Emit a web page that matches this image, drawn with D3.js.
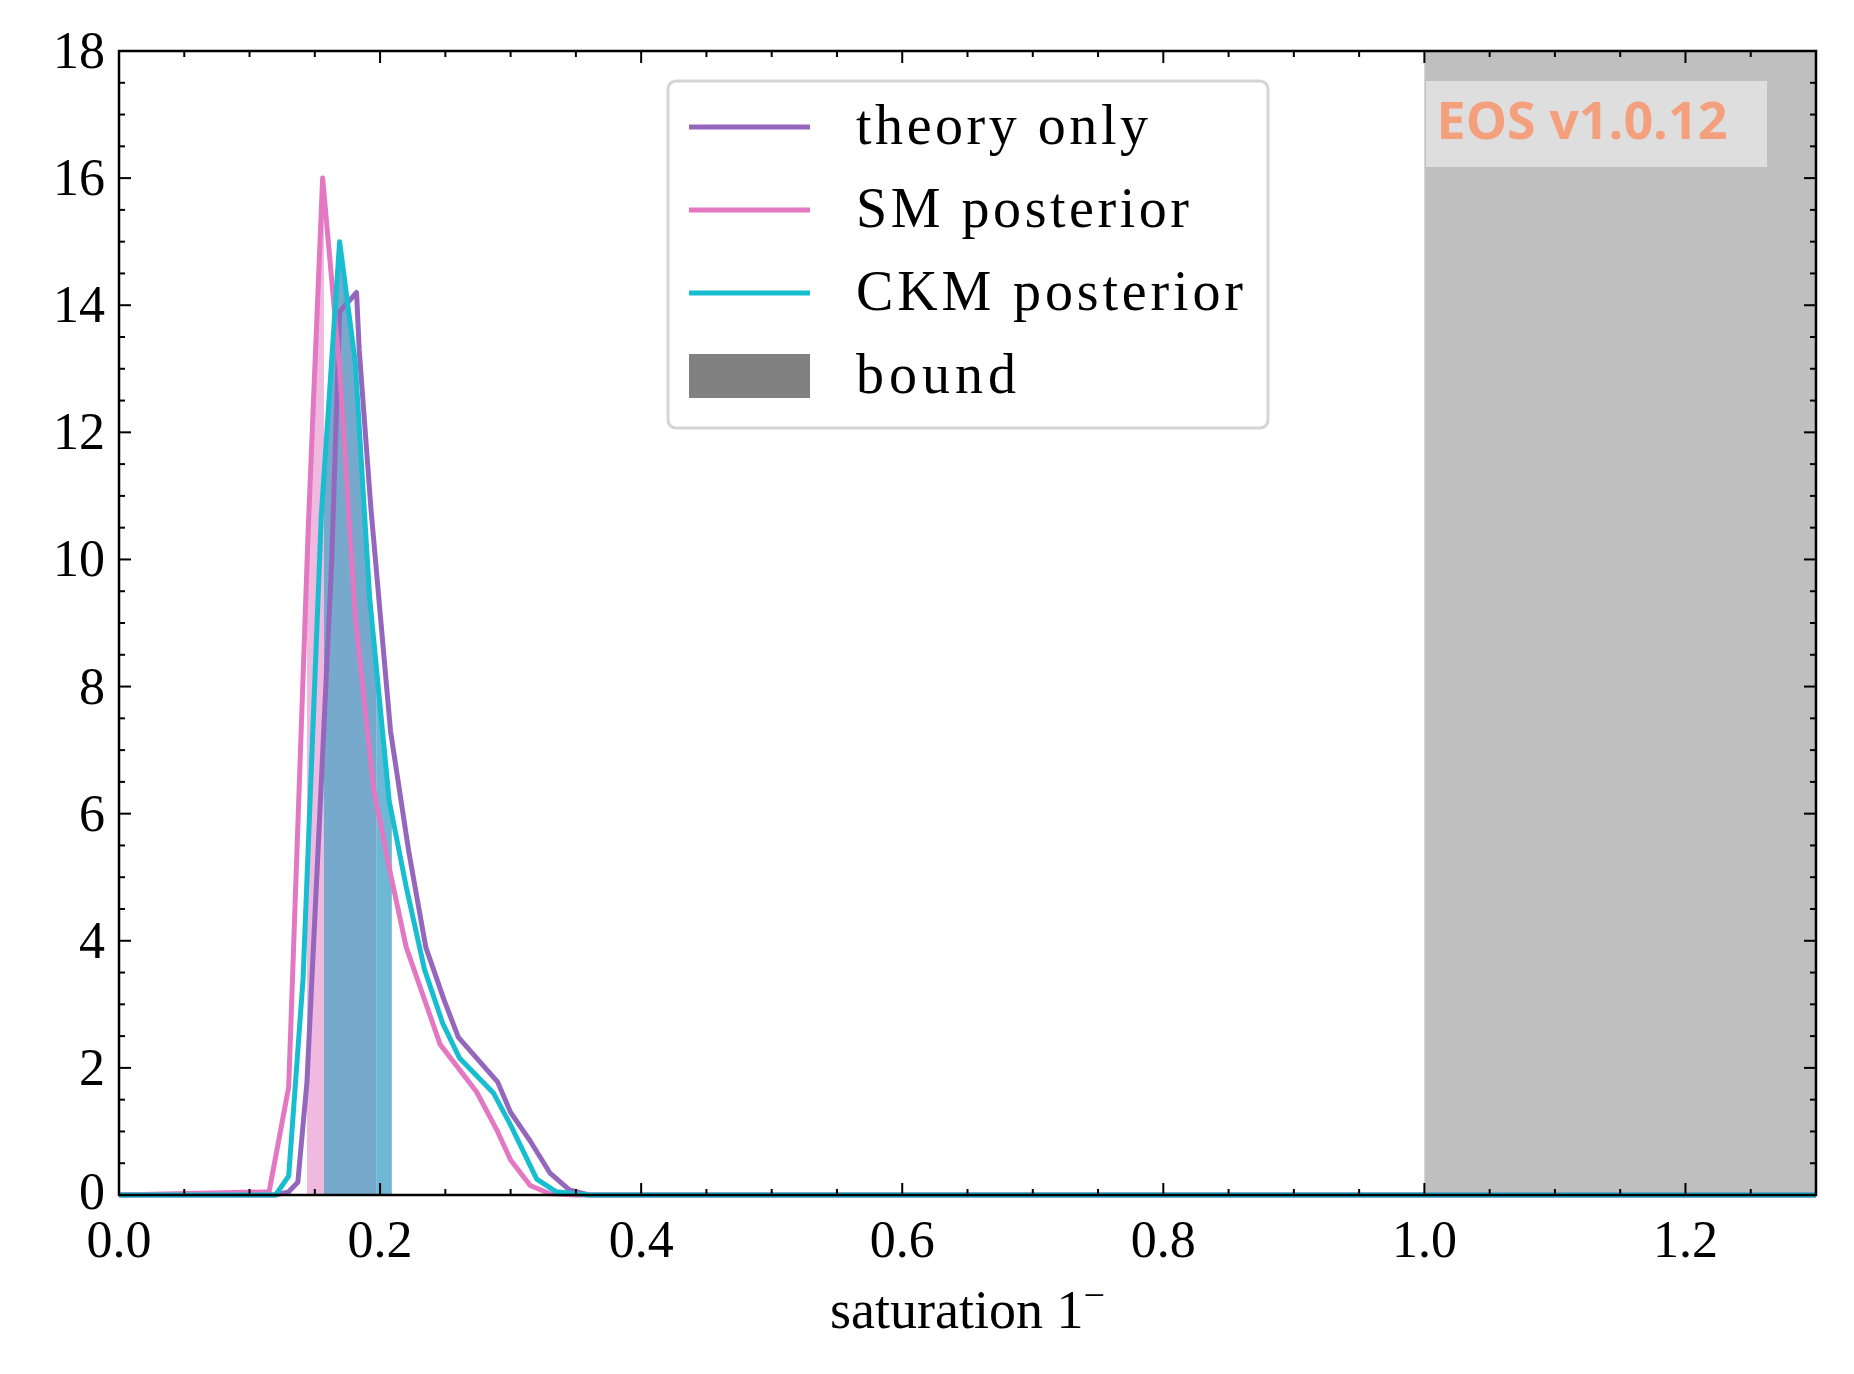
<!DOCTYPE html><html><head><meta charset="utf-8">
<script src="https://cdn.jsdelivr.net/npm/d3@7"></script>
<style>body{margin:0;background:#fff}</style></head><body><svg id="c" width="1854" height="1374"></svg>
<script>
const theoryX=[0,0.12,0.13,0.137,0.144,0.155,0.163,0.169,0.182,0.184,0.193,0.208,0.222,0.235,0.249,0.26,0.29,0.3,0.315,0.33,0.345,0.36,1.3];
const theoryY=[0,0,0.05,0.2,1.78,6.5,10.0,13.9,14.2,13.3,10.8,7.3,5.4,3.9,3.07,2.48,1.78,1.3,0.85,0.35,0.08,0,0];
const smX=[0,0.115,0.13,0.145,0.156,0.169,0.181,0.195,0.207,0.22,0.246,0.274,0.29,0.3,0.315,0.33,0.35,1.3];
const smY=[0,0.05,1.7,10.5,16.0,13.0,9.1,6.4,5.15,3.9,2.37,1.62,1.0,0.55,0.15,0.02,0,0];
const ckmX=[0,0.12,0.13,0.141,0.155,0.169,0.181,0.192,0.207,0.22,0.234,0.248,0.261,0.287,0.3,0.32,0.335,0.36,1.3];
const ckmY=[0,0,0.3,3.4,10.7,15.0,13.1,9.4,6.2,4.85,3.55,2.7,2.15,1.6,1.1,0.25,0.05,0,0];
const bands=[[0.144,0.157,"#f0b9df"],[0.157,0.197,"#76a9cc"],[0.197,0.209,"#6fb8d5"]];
const bound=[1.0,1.3];
const xTicks=[0,0.2,0.4,0.6,0.8,1.0,1.2];
const yTicks=[0,2,4,6,8,10,12,14,16,18];
const legendItems=[["theory only","#9467bd","line"],["SM posterior","#e377c2","line"],["CKM posterior","#17becf","line"],["bound","#808080","rect"]];

const svg=d3.select("#c");
const L=119,R=1816,T=51,B=1195;
const x=d3.scaleLinear().domain([0,1.3]).range([L,R]);
const y=d3.scaleLinear().domain([0,18]).range([B,T]);
const font="'Liberation Serif','DejaVu Serif',serif";
svg.append("rect").attr("x",x(bound[0])).attr("y",T).attr("width",x(bound[1])-x(bound[0])).attr("height",B-T).attr("fill","#bfbfbf");
const line=d3.line().x(d=>x(d[0])).y(d=>y(d[1]));
function interp(xs,ys,v){for(let i=1;i<xs.length;i++){if(v<=xs[i]){const t=(v-xs[i-1])/(xs[i]-xs[i-1]);return ys[i-1]+t*(ys[i]-ys[i-1]);}}return 0;}
const bandSrc=[[smX,smY],[ckmX,ckmY],[ckmX,ckmY]];
bands.forEach((b,k)=>{const [xs,ys]=bandSrc[k];const pts=[b[0]].concat(xs.filter(v=>v>b[0]&&v<b[1])).concat([b[1]]);
 const area=d3.area().x(v=>x(v)).y0(B).y1(v=>y(interp(xs,ys,v)));
 svg.append("path").attr("d",area(pts)).attr("fill",b[2]);});
[[theoryX,theoryY,"#9467bd"],[smX,smY,"#e377c2"],[ckmX,ckmY,"#17becf"]].forEach(([xs,ys,c])=>{
 svg.append("path").attr("d",line(xs.map((v,i)=>[v,ys[i]]))).attr("fill","none").attr("stroke",c).attr("stroke-width",5).attr("stroke-linejoin","round");});
svg.append("rect").attr("x",L).attr("y",T).attr("width",R-L).attr("height",B-T).attr("fill","none").attr("stroke","#000").attr("stroke-width",2.5);
const g=svg.append("g");
d3.range(0,1.3001,0.05).forEach(v=>{const maj=Math.round(v*20)%4===0;const len=maj?12:6;
 g.append("line").attr("x1",x(v)).attr("x2",x(v)).attr("y1",B).attr("y2",B-len).attr("stroke","#000").attr("stroke-width",2);
 g.append("line").attr("x1",x(v)).attr("x2",x(v)).attr("y1",T).attr("y2",T+len).attr("stroke","#000").attr("stroke-width",2);});
d3.range(0,18.01,0.5).forEach(v=>{const maj=Math.round(v*2)%4===0;const len=maj?12:6;
 g.append("line").attr("x1",L).attr("x2",L+len).attr("y1",y(v)).attr("y2",y(v)).attr("stroke","#000").attr("stroke-width",2);
 g.append("line").attr("x1",R).attr("x2",R-len).attr("y1",y(v)).attr("y2",y(v)).attr("stroke","#000").attr("stroke-width",2);});
xTicks.forEach(v=>g.append("text").attr("x",x(v)).attr("y",B+62).attr("text-anchor","middle").attr("font-family",font).attr("font-size",52).text(v.toFixed(1)));
yTicks.forEach(v=>g.append("text").attr("x",L-14).attr("y",v===0?y(v)+14:y(v)+17).attr("text-anchor","end").attr("font-family",font).attr("font-size",52).text(v));
svg.append("text").attr("x",(L+R)/2).attr("y",1328).attr("text-anchor","middle").attr("font-family",font).attr("font-size",54).html("saturation 1<tspan dy='-20' font-size='38'>−</tspan>");
svg.append("rect").attr("x",668).attr("y",81).attr("width",600).attr("height",347).attr("rx",8).attr("fill","#fff").attr("fill-opacity",0.85).attr("stroke","#d5d5d5").attr("stroke-width",3);
legendItems.forEach((it,i)=>{const cy=127+i*83;
 if(it[2]==="line")svg.append("line").attr("x1",689).attr("x2",810).attr("y1",cy).attr("y2",cy).attr("stroke",it[1]).attr("stroke-width",5);
 else svg.append("rect").attr("x",689).attr("y",cy-22).attr("width",121).attr("height",44).attr("fill",it[1]);
 svg.append("text").attr("x",856).attr("y",cy+17).attr("font-family",font).attr("font-size",56).attr("textLength",[292,333,387,160][i]).text(it[0]);});
svg.append("rect").attr("x",1426).attr("y",81).attr("width",341).attr("height",86).attr("fill","#dedede");
svg.append("text").attr("x",1582).attr("y",139).attr("text-anchor","middle").attr("font-family","'Open Sans','DejaVu Sans',sans-serif").attr("font-weight","bold").attr("font-size",52).attr("fill","#f4a07c").text("EOS v1.0.12");
</script></body></html>
